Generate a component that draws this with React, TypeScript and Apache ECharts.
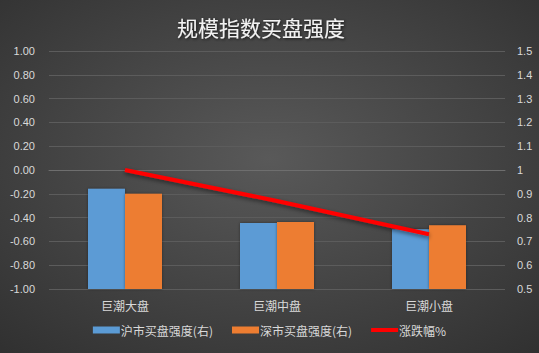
import React, { useEffect, useRef } from "react";
import * as echarts from "echarts";

const categories = ["巨潮大盘", "巨潮中盘", "巨潮小盘"];
const shBuy = [0.921, 0.777, 0.751];
const szBuy = [0.9, 0.781, 0.768];
const change = [0.0, -0.26, -0.54];
const seriesNames = ["沪市买盘强度(右)", "深市买盘强度(右)", "涨跌幅%"];

const FONT = "Liberation Sans, Noto Sans CJK SC, sans-serif";
const CJK = "Noto Sans CJK SC, sans-serif";

export default function App() {
  const ref = useRef<HTMLDivElement>(null);
  useEffect(() => {
    if (!ref.current) return;
    const chart = echarts.init(ref.current, undefined, { renderer: "svg" });
    const gridColors = Array.from({ length: 11 }, (_, i) => (i === 5 ? "#a6a6a6" : "#5c5c5c"));
    chart.setOption({
      animation: false,
      backgroundColor: {
        type: "radial",
        x: 0.5,
        y: 0.45,
        r: 0.75,
        colorStops: [
          { offset: 0, color: "#595959" },
          { offset: 1, color: "#303030" },
        ],
      },
      title: {
        text: "规模指数买盘强度",
        left: 172,
        top: 11,
        textStyle: {
          color: "#f2f2f2",
          fontSize: 21,
          fontWeight: "normal",
          fontFamily: CJK,
          textShadowColor: "rgba(0,0,0,0.7)",
          textShadowBlur: 3,
          textShadowOffsetX: 1,
          textShadowOffsetY: 1,
        },
      },
      legend: {
        bottom: 12,
        left: "center",
        itemWidth: 27,
        itemHeight: 7,
        itemGap: 19,
        symbolKeepAspect: true,
        textStyle: { color: "#d9d9d9", fontSize: 12, fontFamily: CJK, padding: [0, 0, 0, -4] },
        data: [
          { name: seriesNames[0], icon: "rect" },
          { name: seriesNames[1], icon: "rect" },
          { name: seriesNames[2], icon: "path://M0,0h27v4h-27z" },
        ],
      },
      grid: { left: 49, right: 34, top: 51, bottom: 64, containLabel: false },
      xAxis: {
        type: "category",
        data: categories,
        axisLine: { lineStyle: { color: "#6e6e6e", width: 1 } },
        axisTick: { show: false },
        axisLabel: { color: "#d9d9d9", fontSize: 12, fontFamily: CJK, margin: 10 },
      },
      yAxis: [
        {
          type: "value",
          min: -1,
          max: 1,
          interval: 0.2,
          axisLine: { show: false },
          axisTick: { show: false },
          axisLabel: {
            color: "#d9d9d9",
            fontSize: 11,
            fontFamily: FONT,
            margin: 14,
            formatter: (v: number) => v.toFixed(2),
          },
          splitLine: { lineStyle: { color: gridColors, width: 1 } },
        },
        {
          type: "value",
          min: 0.5,
          max: 1.5,
          interval: 0.1,
          axisLine: { show: false },
          axisTick: { show: false },
          axisLabel: {
            color: "#d9d9d9",
            fontSize: 11,
            fontFamily: FONT,
            margin: 12,
            formatter: (v: number) => String(Math.round(v * 10) / 10),
          },
          splitLine: { show: false },
        },
      ],
      series: [
        {
          name: seriesNames[0],
          type: "bar",
          yAxisIndex: 1,
          data: shBuy,
          barWidth: 37,
          barGap: "0%",
          itemStyle: { color: "#5b9bd5", shadowColor: "rgba(0,0,0,0.4)", shadowBlur: 3 },
        },
        {
          name: seriesNames[1],
          type: "bar",
          yAxisIndex: 1,
          data: szBuy,
          barWidth: 37,
          barGap: "0%",
          itemStyle: { color: "#ed7d31", shadowColor: "rgba(0,0,0,0.4)", shadowBlur: 3 },
        },
        {
          name: seriesNames[2],
          type: "line",
          yAxisIndex: 0,
          data: change,
          symbol: "none",
          itemStyle: { color: "#ff0000" },
          lineStyle: {
            color: "#ff0000",
            width: 4,
            shadowColor: "rgba(0,0,0,0.5)",
            shadowBlur: 4,
            shadowOffsetY: 2,
          },
        },
      ],
    });
    return () => chart.dispose();
  }, []);
  return <div ref={ref} style={{ width: 539, height: 353, position: "absolute", left: 0, top: 0 }} />;
}
